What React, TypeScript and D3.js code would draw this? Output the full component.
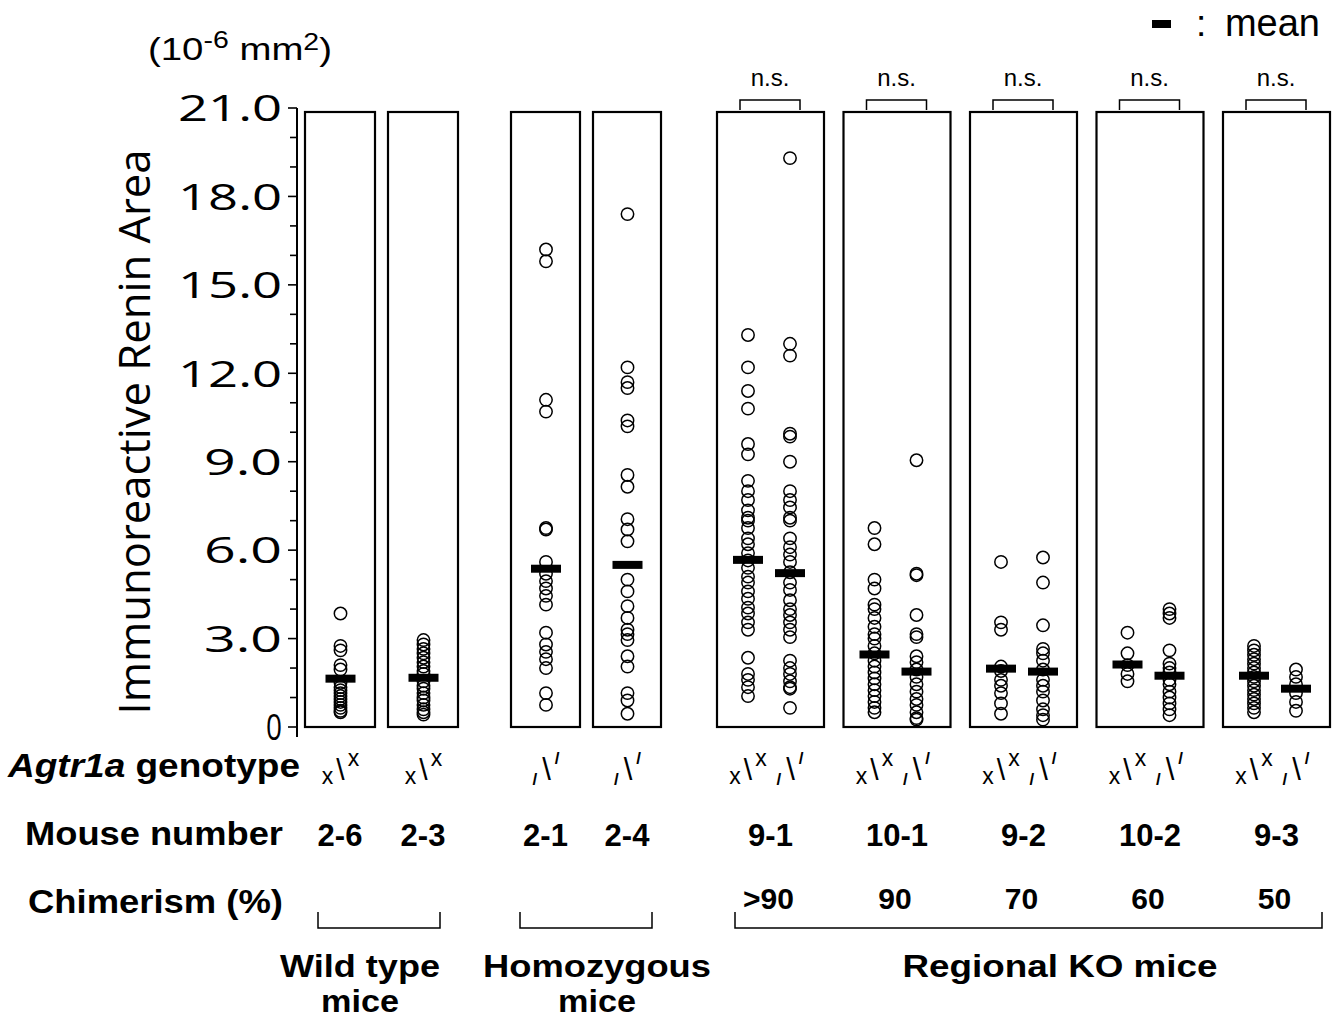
import React from 'react';
import * as d3 from 'd3';

// ---------- DATA ----------
const yTickValues = [0, 3, 6, 9, 12, 15, 18, 21];
const yTickLabels = ['0', '3.0', '6.0', '9.0', '12.0', '15.0', '18.0', '21.0'];

const mouseNumbers = ['2-6', '2-3', '2-1', '2-4', '9-1', '10-1', '9-2', '10-2', '9-3'];
const chimerismLabels = ['', '', '', '', '>90', '90', '70', '60', '50'];
const nsLabels = ['', '', '', '', 'n.s.', 'n.s.', 'n.s.', 'n.s.', 'n.s.'];

// genotype per column: 'x' = floxed (x/x), 'm' = null (-/-)
const panelGenotypes = [['x'], ['x'], ['m'], ['m'], ['x', 'm'], ['x', 'm'], ['x', 'm'], ['x', 'm'], ['x', 'm']];

const wt26 = [3.85, 2.75, 2.6, 2.1, 1.95, 1.5, 1.35, 1.25, 1.15, 1.05, 0.95, 0.85, 0.75, 0.65, 0.55, 0.5];
const wt23 = [2.95, 2.8, 2.65, 2.5, 2.35, 2.2, 2.05, 1.9, 1.8, 1.55, 1.4, 1.3, 1.15, 1.0, 0.9, 0.75, 0.6, 0.5, 0.42];
const ho21 = [16.2, 15.8, 11.1, 10.7, 6.75, 6.7, 5.6, 5.2, 4.95, 4.7, 4.45, 4.15, 3.2, 2.8, 2.55, 2.3, 2.0, 1.15, 0.75];
const ho24 = [17.4, 12.2, 11.7, 11.5, 10.4, 10.2, 8.55, 8.15, 7.05, 6.7, 6.3, 5.0, 4.6, 4.1, 3.7, 3.3, 3.15, 2.95, 2.4, 2.05, 1.15, 0.9, 0.45];
const r91x = [13.3, 12.2, 11.4, 10.8, 9.6, 9.25, 8.35, 8.0, 7.7, 7.35, 7.1, 7.0, 6.75, 6.4, 6.2, 5.9, 5.65, 5.4, 5.1, 4.9, 4.6, 4.35, 4.05, 3.85, 3.55, 3.3, 2.35, 1.8, 1.6, 1.35, 1.05];
const r91m = [19.3, 13.0, 12.6, 9.95, 9.85, 9.0, 8.0, 7.7, 7.45, 7.1, 7.0, 6.4, 6.1, 5.85, 5.6, 5.25, 4.9, 4.65, 4.3, 4.0, 3.8, 3.55, 3.3, 3.05, 2.25, 2.0, 1.8, 1.55, 1.35, 1.3, 0.65];
const r101x = [6.75, 6.2, 5.0, 4.7, 4.15, 4.0, 3.7, 3.4, 3.15, 3.0, 2.75, 2.5, 2.25, 2.05, 1.85, 1.65, 1.45, 1.25, 1.05, 0.85, 0.65, 0.5];
const r101m = [9.05, 5.2, 5.15, 3.8, 3.15, 3.05, 2.4, 2.2, 1.95, 1.7, 1.45, 1.2, 0.95, 0.75, 0.5, 0.3, 0.25];
const r92x = [5.6, 3.55, 3.3, 2.05, 1.9, 1.6, 1.4, 1.15, 0.8, 0.45];
const r92m = [5.75, 4.9, 3.45, 2.65, 2.5, 2.25, 1.95, 1.6, 1.4, 1.2, 0.9, 0.6, 0.4, 0.25];
const r102x = [3.2, 2.5, 2.1, 1.8, 1.55];
const r102m = [4.0, 3.85, 3.7, 2.6, 2.15, 2.0, 1.85, 1.6, 1.45, 1.2, 1.0, 0.8, 0.6, 0.4];
const r93x = [2.75, 2.6, 2.45, 2.3, 2.15, 2.0, 1.85, 1.7, 1.55, 1.4, 1.25, 1.1, 0.95, 0.8, 0.65, 0.5];
const r93m = [1.95, 1.7, 1.45, 1.15, 0.85, 0.55];

const panelSeries = [[wt26], [wt23], [ho21], [ho24], [r91x, r91m], [r101x, r101m], [r92x, r92m], [r102x, r102m], [r93x, r93m]];
const panelMeans = [[1.64], [1.67], [5.37], [5.5], [5.67, 5.22], [2.46, 1.88], [1.98, 1.88], [2.12, 1.74], [1.74, 1.3]];

const groupNames = [['Wild type', 'mice'], ['Homozygous', 'mice'], ['Regional KO mice']];

// ---------- LAYOUT ----------
const W = 1332;
const H = 1019;
const FONT = '"Liberation Sans", Arial, Helvetica, sans-serif';
const TICKFONT = '"Open Sans", "Liberation Sans", sans-serif';

const y = d3.scaleLinear().domain([0, 21]).range([727, 108]);
const axisX = 297;

const panelLayout = [
  { x: 305, w: 70 },
  { x: 388, w: 70 },
  { x: 511, w: 69 },
  { x: 593, w: 68 },
  ...d3.range(5).map((i) => ({ x: 717 + i * 126.5, w: 107 })),
];

function columnXs(p: { x: number; w: number }, n: number): number[] {
  if (n === 1) return [p.x + p.w / 2 + 0.5];
  return [p.x + 31, p.x + 73];
}

const groupBrackets = [
  { x1: 318, x2: 440, lx: 360, tl: [160, 78], lines: groupNames[0] },
  { x1: 520, x2: 652, lx: 597, tl: [228, 78], lines: groupNames[1] },
  { x1: 735, x2: 1322, lx: 1060, tl: [315], lines: groupNames[2] },
];

function Genotype({ cx, kind }: { cx: number; kind: string }) {
  if (kind === 'x') {
    return (
      <text x={cx} y={772} textAnchor="middle" fontFamily={FONT} fill="#000">
        <tspan fontSize={23} dy={12}>x</tspan>
        <tspan fontSize={30} dx={3} dy={-4}>\</tspan>
        <tspan fontSize={23} dx={3} dy={-14}>x</tspan>
      </text>
    );
  }
  return (
    <text x={cx} y={772} textAnchor="middle" fontFamily={FONT} fill="#000" fontWeight="bold">
      <tspan fontSize={17} dy={13}>/</tspan>
      <tspan fontSize={31} fontWeight="normal" dx={5} dy={-5}>\</tspan>
      <tspan fontSize={17} dx={4} dy={-16}>/</tspan>
    </text>
  );
}

export default function App() {
  const minorTicks = d3.range(0, 22, 1);
  return (
    <svg width={W} height={H} style={{ position: 'absolute', left: 0, top: 0, background: '#fff' }}>
      <rect x={0} y={0} width={W} height={H} fill="#fff" />

      {/* unit label */}
      <text x={148} y={60} fontFamily={FONT} fontSize={31} fill="#000" textLength={184} lengthAdjust="spacingAndGlyphs">
        (10<tspan fontSize={23} dy={-12}>-6</tspan>
        <tspan dy={12}> mm</tspan>
        <tspan fontSize={23} dy={-10}>2</tspan>
        <tspan dy={10}>)</tspan>
      </text>

      {/* y axis title */}
      <text
        transform={`translate(150, 432) rotate(-90)`}
        textAnchor="middle"
        fontFamily={TICKFONT}
        fontSize={43}
        textLength={565}
        lengthAdjust="spacingAndGlyphs"
        fill="#000"
      >
        Immunoreactive Renin Area
      </text>

      {/* axis */}
      <line x1={axisX} x2={axisX} y1={y(21)} y2={y(0) + 10} stroke="#000" strokeWidth={2} />
      {minorTicks.map((t) => (
        <line key={'m' + t} x1={axisX - (t % 3 === 0 ? 9 : 7)} x2={axisX} y1={y(t)} y2={y(t)} stroke="#000" strokeWidth={1.6} />
      ))}
      {yTickValues.map((t, i) => (
        <text
          key={'tl' + t}
          x={282}
          y={y(t)}
          dy="0.36em"
          textAnchor="end"
          fontFamily={TICKFONT}
          fontSize={37}
          textLength={yTickLabels[i].length === 1 ? 16 : yTickLabels[i].length === 3 ? 78 : 104}
          lengthAdjust="spacingAndGlyphs"
          fill="#000"
        >
          {yTickLabels[i]}
        </text>
      ))}

      {/* panels */}
      {panelLayout.map((p, pi) => {
        const series = panelSeries[pi];
        const xs = columnXs(p, series.length);
        return (
          <g key={'p' + pi}>
            <rect x={p.x} y={y(21) + 4} width={p.w} height={y(0) - y(21) - 4} fill="none" stroke="#000" strokeWidth={2.2} />
            {series.map((vals, si) =>
              vals.map((v, vi) => (
                <circle key={`c${si}-${vi}`} cx={xs[si]} cy={y(v)} r={6.2} fill="none" stroke="#000" strokeWidth={1.5} />
              ))
            )}
            {panelMeans[pi].map((m, si) => (
              <rect key={'mean' + si} x={xs[si] - 15} y={y(m) - 4} width={30} height={8} fill="#000" />
            ))}
            {nsLabels[pi] && (
              <g>
                <path
                  d={`M${xs[0] - 8},${y(21) + 2} V${y(21) - 8} H${xs[1] + 10} V${y(21) + 2}`}
                  fill="none"
                  stroke="#000"
                  strokeWidth={1.5}
                />
                <text x={(xs[0] + xs[1]) / 2 + 1} y={86} textAnchor="middle" fontFamily={FONT} fontSize={24} fill="#000">
                  {nsLabels[pi]}
                </text>
              </g>
            )}
            {panelGenotypes[pi].map((g, si) => (
              <Genotype key={'g' + si} cx={xs[si]} kind={g} />
            ))}
            <text x={p.x + p.w / 2} y={846} textAnchor="middle" fontFamily={FONT} fontWeight="bold" fontSize={31} fill="#000">
              {mouseNumbers[pi]}
            </text>
            {chimerismLabels[pi] && (
              <text x={p.x + p.w / 2 - 2} y={909} textAnchor="middle" fontFamily={FONT} fontWeight="bold" fontSize={30} fill="#000">
                {chimerismLabels[pi]}
              </text>
            )}
          </g>
        );
      })}

      {/* row labels */}
      <text x={8} y={777} fontFamily={FONT} fontWeight="bold" fontSize={33} textLength={292} lengthAdjust="spacingAndGlyphs" fill="#000">
        <tspan fontStyle="italic">Agtr1a</tspan> genotype
      </text>
      <text x={25} y={845} fontFamily={FONT} fontWeight="bold" fontSize={34} textLength={258} lengthAdjust="spacingAndGlyphs" fill="#000">
        Mouse number
      </text>
      <text x={28} y={913} fontFamily={FONT} fontWeight="bold" fontSize={34} textLength={255} lengthAdjust="spacingAndGlyphs" fill="#000">
        Chimerism (%)
      </text>

      {/* group brackets */}
      {groupBrackets.map((g, i) => (
        <g key={'gb' + i}>
          <path d={`M${g.x1},912 V928 H${g.x2} V912`} fill="none" stroke="#000" strokeWidth={1.5} />
          {g.lines.map((l, li) => (
            <text
              key={li}
              x={g.lx}
              y={977 + li * 35}
              textAnchor="middle"
              fontFamily={FONT}
              fontWeight="bold"
              fontSize={31}
              textLength={g.tl[li]}
              lengthAdjust="spacingAndGlyphs"
              fill="#000"
            >
              {l}
            </text>
          ))}
        </g>
      ))}

      {/* legend */}
      <rect x={1152} y={20} width={19} height={8} fill="#000" />
      <text x={1196} y={36} fontFamily={FONT} fontSize={37} fill="#000">:</text>
      <text x={1320} y={36} textAnchor="end" fontFamily={FONT} fontSize={38} fill="#000">mean</text>
    </svg>
  );
}
